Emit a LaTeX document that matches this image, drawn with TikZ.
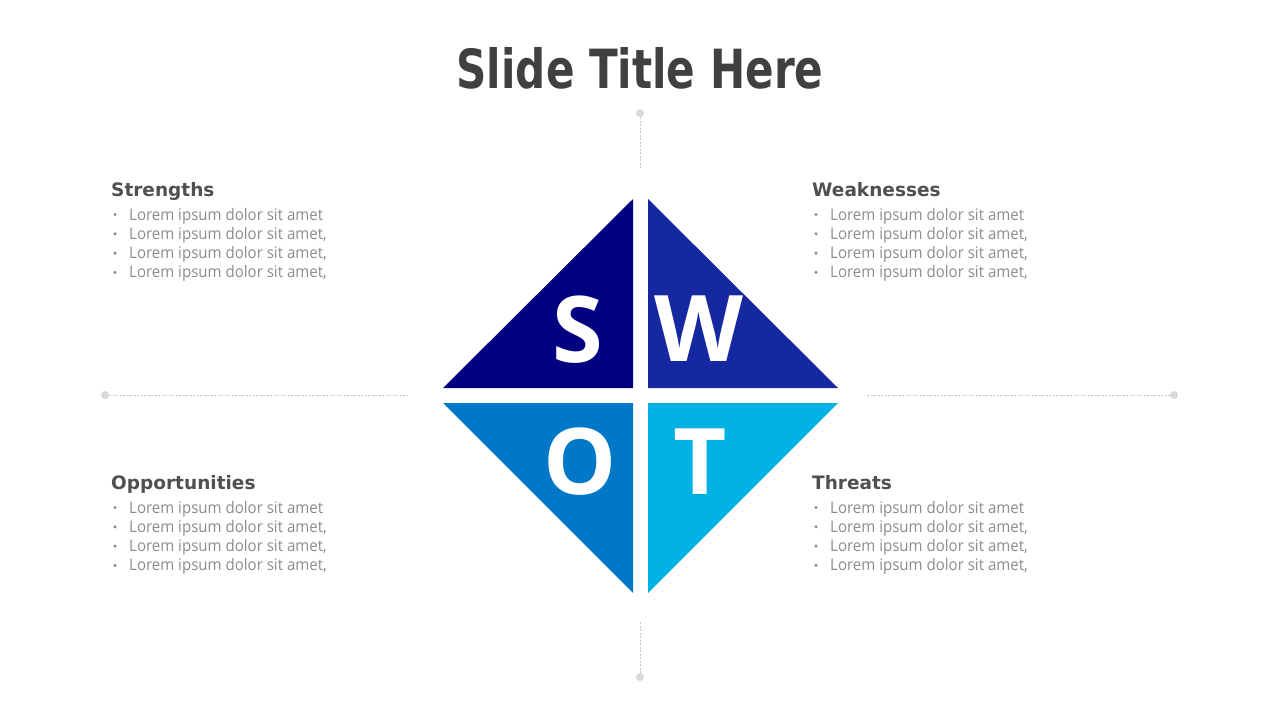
\documentclass[tikz,border=0pt]{standalone}
\usepackage{fontspec}
\setmainfont{Open Sans}
\newfontfamily\titlefont[FakeStretch=0.78]{DejaVu Sans}
\newfontfamily\headfont{DejaVu Sans}
\newfontfamily\bodyfont[FakeStretch=0.94]{Open Sans}
\newfontfamily\letterfont{Open Sans}
\definecolor{titlegray}{RGB}{64,64,66}
\definecolor{headgray}{RGB}{80,80,80}
\definecolor{bodygray}{RGB}{140,140,140}
\definecolor{dotgray}{RGB}{217,217,217}
\definecolor{linegray}{RGB}{200,200,200}
\definecolor{sCol}{RGB}{0,0,128}
\definecolor{wCol}{RGB}{22,40,160}
\definecolor{oCol}{RGB}{0,120,200}
\definecolor{tCol}{RGB}{0,178,226}
\begin{document}
\begin{tikzpicture}[x=1pt,y=-1pt,
  titletext/.style={font=\titlefont\bfseries\fontsize{54}{60}\selectfont,text=titlegray,inner sep=0,anchor=base},
  headtext/.style={font=\headfont\bfseries\fontsize{18.5}{22}\selectfont,text=headgray,inner sep=0,anchor=base west},
  bodytext/.style={font=\bodyfont\fontsize{16}{19}\selectfont,text=bodygray,inner sep=0,anchor=base west},
  bulletdot/.style={circle,fill=bodygray,inner sep=0,minimum size=3.4pt},
  letter/.style={font=\letterfont\bfseries\fontsize{92}{92}\selectfont,text=white,inner sep=0,anchor=base},
  enddot/.style={circle,fill=dotgray,inner sep=0,minimum size=8pt},
  guide/.style={draw=linegray,line width=0.75pt,dash pattern=on 2pt off 1.5pt}]
\useasboundingbox[fill=white] (0,0) rectangle (1280,720);

% title
\node[titletext] (title) at (640,88) {Slide Title Here};

% guide lines
\node[enddot] (dtop) at (640,113) {};
\coordinate (etop) at (640,169);
\draw[guide] (dtop) -- (etop);
\node[enddot] (dbot) at (640,677) {};
\coordinate (ebot) at (640,622);
\draw[guide] (ebot) -- (dbot);
\node[enddot] (dleft) at (105,395) {};
\coordinate (eleft) at (408,395);
\draw[guide] (dleft) -- (eleft);
\node[enddot] (dright) at (1174,395) {};
\coordinate (eright) at (867,395);
\draw[guide] (eright) -- (dright);

% SWOT triangles
\fill[sCol] (443,388) -- (633,388) -- (633,199) -- cycle;
\fill[wCol] (648,199) -- (648,388) -- (838,388) -- cycle;
\fill[oCol] (443,403) -- (633,403) -- (633,593) -- cycle;
\fill[tCol] (648,403) -- (838,403) -- (648,593) -- cycle;

\node[letter] (lS) at (578,362) {S};
\node[letter] (lW) at (699,361) {W};
\node[letter] (lO) at (580,494) {O};
\node[letter] (lT) at (700,494) {T};

% text blocks
\foreach \nm/\x/\y/\head in {S/111/196/Strengths, W/812/196/Weaknesses, O/111/489/Opportunities, T/812/489/Threats}{
  \node[headtext] (\nm-h) at (\x,\y) {\head};
  \foreach \i/\txt in {1/{Lorem ipsum dolor sit amet}, 2/{Lorem ipsum dolor sit amet,}, 3/{Lorem ipsum dolor sit amet,}, 4/{Lorem ipsum dolor sit amet,}}{
    \node[bodytext] (\nm-\i) at (\x+18,\y+24+19.3*\i-19.3) {\txt};
    \node[bulletdot] (\nm-b\i) at (\x+4,\y+18.5+19.3*\i-19.3) {};
  }
}
\end{tikzpicture}
\end{document}
